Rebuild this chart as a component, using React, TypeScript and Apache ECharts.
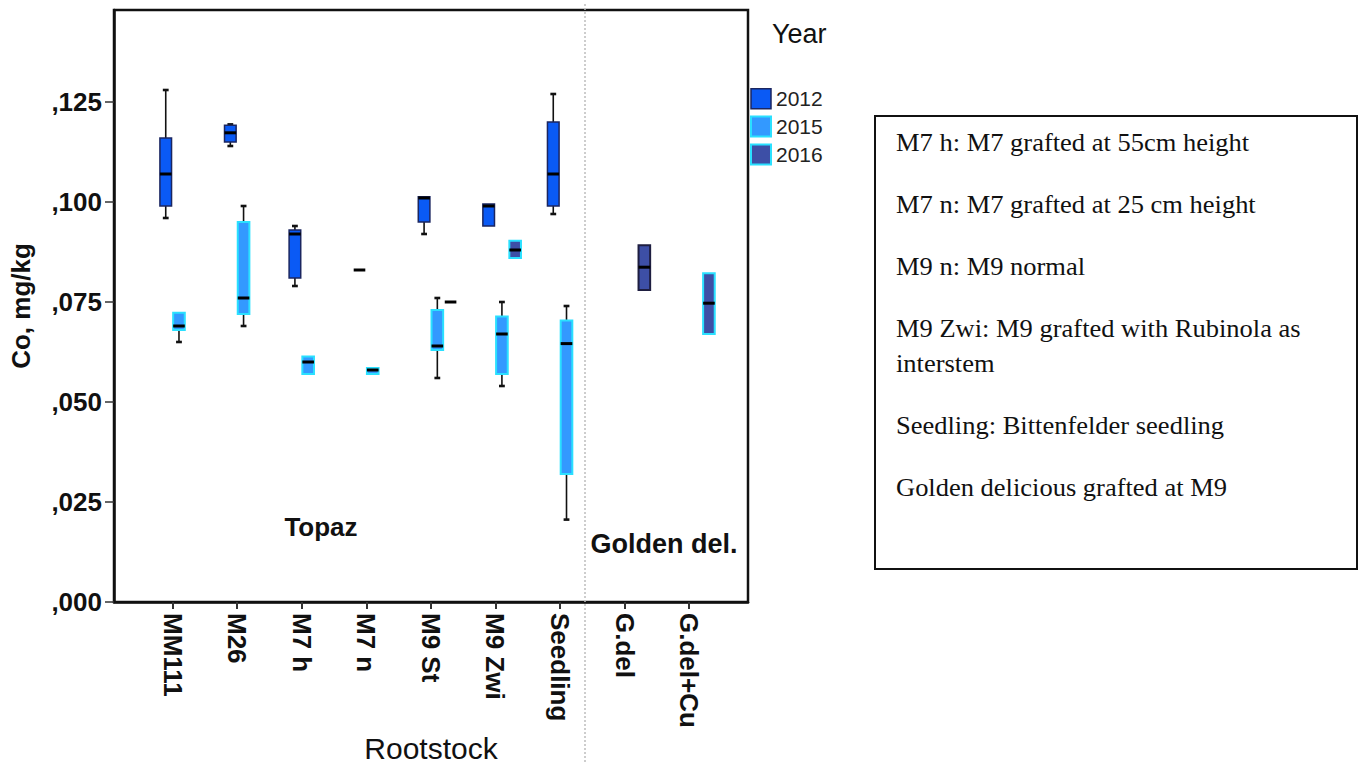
import React, { useEffect, useRef } from 'react';
import * as echarts from 'echarts';

// ---------- data ----------
const CATEGORIES = ['MM111', 'M26', 'M7 h', 'M7 n', 'M9 St', 'M9 Zwi', 'Seedling', 'G.del', 'G.del+Cu'];
const CATEGORY_INDEX = [0, 1, 2, 3, 4, 5, 6, 7, 8];
const Y_TICKS = [0, 0.025, 0.05, 0.075, 0.1, 0.125];
const YEARS = ['2012', '2015', '2016'];

// [category index, min, Q1, median, Q3, max]  (Co, mg/kg)
const BOX_2012 = [
  [0, 0.096, 0.099, 0.107, 0.116, 0.128],
  [1, 0.114, 0.115, 0.1173, 0.1192, 0.1194],
  [2, 0.079, 0.081, 0.092, 0.093, 0.094],
  [3, 0.083, 0.083, 0.083, 0.083, 0.083],
  [4, 0.092, 0.095, 0.101, 0.1013, 0.1013],
  [5, 0.094, 0.094, 0.099, 0.0995, 0.0995],
  [6, 0.097, 0.099, 0.107, 0.12, 0.127],
];
const BOX_2015 = [
  [0, 0.065, 0.068, 0.069, 0.0723, 0.0723],
  [1, 0.069, 0.072, 0.076, 0.095, 0.099],
  [2, 0.057, 0.057, 0.06, 0.0614, 0.0614],
  [3, 0.057, 0.057, 0.058, 0.0585, 0.0585],
  [4, 0.056, 0.063, 0.064, 0.073, 0.076],
  [5, 0.054, 0.057, 0.067, 0.0714, 0.075],
  [6, 0.0206, 0.032, 0.0646, 0.0704, 0.074],
];
const BOX_2016 = [
  [4, 0.075, 0.075, 0.075, 0.075, 0.075],
  [5, 0.086, 0.086, 0.088, 0.0903, 0.0903],
  [7, 0.078, 0.078, 0.0837, 0.0892, 0.0892],
  [8, 0.067, 0.067, 0.0747, 0.0822, 0.0822],
];

const NOTES = [
  'M7 h: M7 grafted at 55cm height',
  'M7 n: M7 grafted at 25 cm height',
  'M9 n: M9 normal',
  'M9 Zwi: M9 grafted with Rubinola as',
  'interstem',
  'Seedling: Bittenfelder seedling',
  'Golden delicious grafted at M9',
];

// ---------- layout / style ----------
const YEAR_OFFSET = [-0.105, 0.1, 0.305];
const BOX_W = 0.18;
const CAP_W = 0.09;
const FILL = ['#0a5af5', '#3399ff', '#3d4fa6'];
const BORDER = ['#1b2660', '#2ae0ff', '#2ae0ff'];
const BORDER_W = [1.5, 2, 2];
const BORDER_2016_DARK_CAT = [7];
const NOTE_Y = [143, 205, 267, 329, 364, 426, 488];

const SANS = '"Liberation Sans", Arial, sans-serif';
const SERIF = '"Liberation Serif", "Times New Roman", serif';

function makeRender(yi: number) {
  return (params: any, api: any) => {
    const cat = api.value(0);
    const xv = cat + YEAR_OFFSET[yi];
    const vals = [1, 2, 3, 4, 5].map((i) => api.value(i));
    const pts = vals.map((v) => api.coord([xv, v]));
    const cx = pts[0][0];
    const [yMin, yQ1, yMed, yQ3, yMax] = pts.map((p: number[]) => p[1]);
    const w = api.size([BOX_W, 0])[0];
    const cw = api.size([CAP_W, 0])[0];
    let stroke = BORDER[yi];
    if (yi === 2 && BORDER_2016_DARK_CAT.indexOf(cat) >= 0) stroke = '#1e1e40';
    const children: any[] = [];
    const whisker = { stroke: '#111', lineWidth: 1.6 };
    const cap = { stroke: '#111', lineWidth: 2.6 };
    if (yQ3 - yMax > 0.8) {
      children.push({ type: 'line', shape: { x1: cx, y1: yQ3, x2: cx, y2: yMax }, style: whisker });
      children.push({ type: 'line', shape: { x1: cx - cw / 2, y1: yMax, x2: cx + cw / 2, y2: yMax }, style: cap });
    }
    if (yMin - yQ1 > 0.8) {
      children.push({ type: 'line', shape: { x1: cx, y1: yQ1, x2: cx, y2: yMin }, style: whisker });
      children.push({ type: 'line', shape: { x1: cx - cw / 2, y1: yMin, x2: cx + cw / 2, y2: yMin }, style: cap });
    }
    if (yQ1 - yQ3 > 0.8) {
      children.push({
        type: 'rect',
        shape: { x: cx - w / 2, y: yQ3, width: w, height: yQ1 - yQ3 },
        style: { fill: FILL[yi], stroke, lineWidth: BORDER_W[yi] },
      });
    }
    children.push({
      type: 'line',
      shape: { x1: cx - w / 2, y1: yMed, x2: cx + w / 2, y2: yMed },
      style: { stroke: '#000', lineWidth: 3 },
    });
    return { type: 'group', children };
  };
}

export default function App() {
  const ref = useRef<HTMLDivElement>(null);
  useEffect(() => {
    if (!ref.current) return;
    const chart = echarts.init(ref.current, null, { renderer: 'svg' });
    const seriesData = [BOX_2012, BOX_2015, BOX_2016];
    const option: any = {
      animation: false,
      backgroundColor: '#fff',
      grid: {
        left: 114,
        top: 10,
        width: 634,
        height: 592,
        show: true,
        borderColor: '#111',
        borderWidth: 2.5,
        backgroundColor: 'transparent',
      },
      legend: {
        orient: 'vertical',
        left: 750,
        top: 88,
        padding: 0,
        itemWidth: 20,
        itemHeight: 20,
        itemGap: 6,
        selectedMode: false,
        textStyle: { fontFamily: SANS, fontSize: 21, color: '#222' },
        data: YEARS.map((y, i) => ({
          name: y,
          icon: 'rect',
          itemStyle: { color: FILL[i], borderColor: BORDER[i], borderWidth: BORDER_W[i] },
        })),
      },
      xAxis: {
        type: 'value',
        min: -0.906,
        max: 8.91,
        axisLine: { show: true, onZero: false, lineStyle: { color: '#111', width: 2.5 } },
        axisTick: { show: true, customValues: CATEGORY_INDEX, length: 7, lineStyle: { color: '#333', width: 2 } },
        axisLabel: {
          customValues: CATEGORY_INDEX,
          rotate: -90,
          margin: 11,
          fontFamily: SANS,
          fontWeight: 'bold',
          fontSize: 26,
          color: '#111',
          formatter: (v: number) => CATEGORIES[Math.round(v)] ?? '',
        },
        splitLine: { show: false },
      },
      yAxis: {
        type: 'value',
        min: 0,
        max: 0.148,
        axisLine: { show: true, onZero: false, lineStyle: { color: '#111', width: 2.5 } },
        axisTick: { show: true, customValues: Y_TICKS, length: 9, lineStyle: { color: '#333', width: 1.5 } },
        axisLabel: {
          customValues: Y_TICKS,
          margin: 12,
          fontFamily: SANS,
          fontWeight: 'bold',
          fontSize: 26,
          color: '#111',
          formatter: (v: number) => ',' + v.toFixed(3).split('.')[1],
        },
        splitLine: { show: false },
      },
      series: YEARS.map((y, i) => ({
        name: y,
        type: 'custom',
        renderItem: makeRender(i),
        encode: { x: 0, y: [1, 2, 3, 4, 5] },
        data: seriesData[i],
        itemStyle: { color: FILL[i] },
        z: 3,
      })),
      graphic: [
        {
          type: 'line',
          shape: { x1: 585, y1: 4, x2: 585, y2: 764 },
          style: { stroke: '#bdbdbd', lineWidth: 1.5, lineDash: [2, 2] },
          z: 1,
        },
        {
          type: 'text',
          x: 21,
          y: 306,
          rotation: Math.PI / 2,
          style: {
            text: 'Co, mg/kg',
            font: `bold 26px ${SANS}`,
            fill: '#111',
            align: 'center',
            verticalAlign: 'middle',
          },
        },
        {
          type: 'text',
          x: 431,
          y: 748,
          style: {
            text: 'Rootstock',
            font: `30px ${SANS}`,
            fill: '#111',
            align: 'center',
            verticalAlign: 'middle',
          },
        },
        {
          type: 'text',
          x: 321,
          y: 527,
          style: { text: 'Topaz', font: `bold 26px ${SANS}`, fill: '#111', align: 'center', verticalAlign: 'middle' },
        },
        {
          type: 'text',
          x: 664,
          y: 544,
          style: { text: 'Golden del.', font: `bold 27px ${SANS}`, fill: '#111', align: 'center', verticalAlign: 'middle' },
        },
        {
          type: 'text',
          x: 772,
          y: 34,
          style: { text: 'Year', font: `27px ${SANS}`, fill: '#111', align: 'left', verticalAlign: 'middle' },
        },
        {
          type: 'rect',
          shape: { x: 875, y: 116, width: 482, height: 453 },
          style: { fill: '#fff', stroke: '#111', lineWidth: 2 },
        },
        ...NOTES.map((t, i) => ({
          type: 'text',
          x: 896,
          y: NOTE_Y[i],
          scaleX: 1.06,
          style: { text: t, font: `25px ${SERIF}`, fill: '#111', align: 'left', verticalAlign: 'middle' },
        })),
      ],
    };
    chart.setOption(option);
    return () => chart.dispose();
  }, []);
  return (
    <div
      ref={ref}
      style={{ position: 'fixed', left: 0, top: 0, width: 1365, height: 764, background: '#fff' }}
    />
  );
}
